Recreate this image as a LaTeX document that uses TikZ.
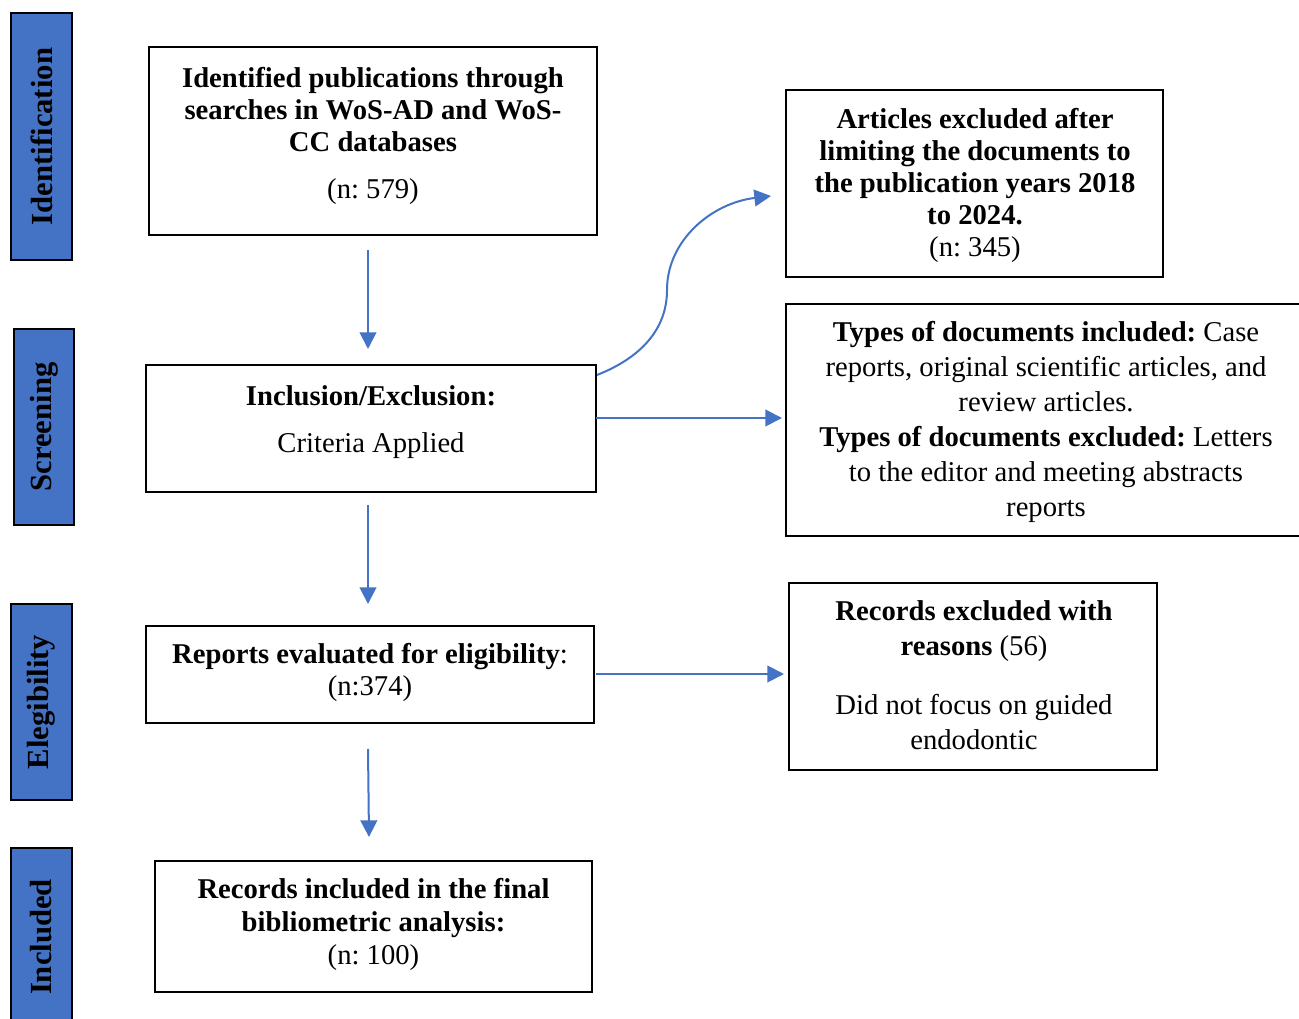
\documentclass[tikz,border=0pt]{standalone}
\usepackage{fontspec}
\setmainfont{Liberation Serif}
\usetikzlibrary{arrows.meta}
\definecolor{wblue}{HTML}{4472C4}
\frenchspacing
\begin{document}
\begin{tikzpicture}[x=0.75pt,y=-0.75pt,
  side/.style={draw=black,line width=0.8pt,fill=wblue,inner sep=0pt,
    font=\fontsize{23}{26}\selectfont\bfseries,rotate=90},
  boxline/.style={draw=black,line width=2pt},
  txt/.style={align=center,inner sep=0pt,font=\fontsize{21.5}{24}\selectfont},
  flow/.style={draw=wblue,line width=1.5pt,-{Triangle[length=12.5pt,width=12.5pt]}}
]
\useasboundingbox (0,0) rectangle (1299,1019);

% side labels
\node[side,minimum width=247*0.75pt,minimum height=61*0.75pt] (sid) at (41.5,136.5) {Identification};
\node[side,minimum width=196*0.75pt,minimum height=60*0.75pt] (sscr) at (44,427) {Screening};
\node[side,minimum width=196*0.75pt,minimum height=61*0.75pt] (selg) at (41.5,702) {Elegibility};
\node[side,minimum width=178*0.75pt,minimum height=61*0.75pt] (sinc) at (41.5,937) {Included};

% main boxes
\draw[boxline] (149,47) rectangle (597,235);
\node[txt,font=\fontsize{21.5}{24}\selectfont\bfseries] (t1a) at (373,110) {Identified publications through\\searches in WoS-AD and WoS-\\CC databases};
\node[txt] (t1b) at (373,192) {(n: 579)};

\draw[boxline] (146,365) rectangle (596,492);
\node[txt] (t2a) at (371,396) {\textbf{Inclusion/Exclusion:}};
\node[txt] (t2b) at (371,446) {Criteria Applied};

\draw[boxline] (146,626) rectangle (594,723);
\node[txt] (t3) at (370,672.5) {\textbf{Reports evaluated for eligibility}:\\(n:374)};

\draw[boxline] (155,861) rectangle (592,992);
\node[txt,font=\fontsize{21.5}{24.5}\selectfont] (t4) at (373.5,924.5) {\textbf{Records included in the final}\\\textbf{bibliometric analysis:}\\(n: 100)};

% right boxes
\draw[boxline] (786,90) rectangle (1163,277);
\node[txt] (r1) at (975,185.5) {\textbf{Articles excluded after}\\\textbf{limiting the documents to}\\\textbf{the publication years 2018}\\\textbf{to 2024.}\\(n: 345)};

\draw[boxline] (786,304) rectangle (1310,536);
\node[txt,font=\fontsize{21.5}{26.25}\selectfont] (r2) at (1046,421.5) {\textbf{Types of documents included:} Case\\reports, original scientific articles, and\\review articles.\\\textbf{Types of documents excluded:} Letters\\to the editor and meeting abstracts\\reports};

\draw[boxline] (789,583) rectangle (1157,770);
\node[txt,font=\fontsize{21.5}{26.25}\selectfont] (r3a) at (974,631) {\textbf{Records excluded with}\\\textbf{reasons} (56)};
\node[txt,font=\fontsize{21.5}{26.25}\selectfont] (r3b) at (974,722) {Did not focus on guided\\endodontic};

% connectors
\coordinate (a1s) at (368,250); \coordinate (a1e) at (368,349);
\coordinate (a2s) at (368,505); \coordinate (a2e) at (368,604);
\coordinate (a3s) at (368,749); \coordinate (a3e) at (369,837);
\coordinate (a4s) at (596,418); \coordinate (a4e) at (782,418);
\coordinate (a5s) at (596,674); \coordinate (a5e) at (784,674);
\coordinate (cs) at (597,375); \coordinate (cm) at (667,290); \coordinate (ce) at (771,196);
\draw[flow] (a1s) -- (a1e);
\draw[flow] (a2s) -- (a2e);
\draw[flow] (a3s) -- (a3e);
\draw[flow] (a4s) -- (a4e);
\draw[flow] (a5s) -- (a5e);
\draw[flow] (cs) .. controls (640,358) and (667,330) .. (cm) .. controls (667,240) and (712,203) .. (ce);
\end{tikzpicture}
\end{document}
